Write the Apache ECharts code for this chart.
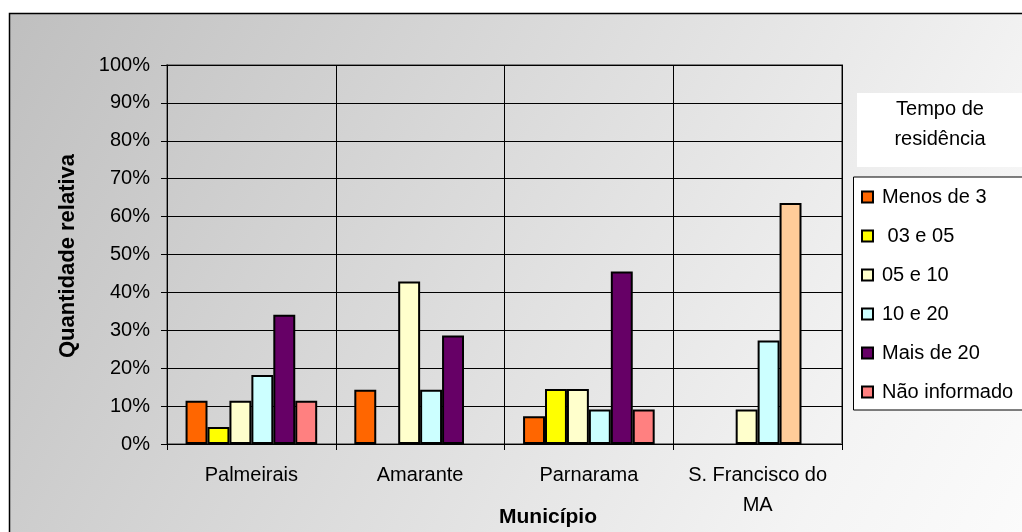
<!DOCTYPE html>
<html>
<head>
<meta charset="utf-8">
<script src="https://cdn.jsdelivr.net/npm/echarts@6/dist/echarts.min.js"></script>
<style>html,body{margin:0;padding:0;background:#fff}#c{width:1022px;height:532px}</style>
</head>
<body>
<div id="c"></div>
<script>
const categories = ['Palmeirais', 'Amarante', 'Parnarama', 'S. Francisco do\nMA'];
const seriesNames = ['Menos de 3', ' 03 e 05', '05 e 10', '10 e 20', 'Mais de 20', 'Não informado'];
const menosDe3 = [11.4, 14.3, 7.3, null];
const de03a05 = [4.5, null, 14.5, null];
const de05a10 = [11.4, 42.9, 14.5, 9.1];
const de10a20 = [18.2, 14.3, 9.1, 27.3];
const maisDe20 = [34.1, 28.6, 45.5, 63.6];
const naoInformado = [11.4, null, 9.1, null];
const yTicks = [0, 10, 20, 30, 40, 50, 60, 70, 80, 90, 100];
const legendTitle = 'Tempo de\nresidência';
const xTitle = 'Município';
const yTitle = 'Quantidade relativa';

const colors = ['#FF6600', '#FFFF00', '#FFFFCC', '#CCFFFF', '#660066', '#FF8080'];
const overrideColor = { series: 4, index: 3, color: '#FFCC99' };
const allValues = [menosDe3, de03a05, de05a10, de10a20, maisDe20, naoInformado];

const font = '"Liberation Sans", Arial, sans-serif';

const series = allValues.map((vals, si) => ({
  name: seriesNames[si],
  type: 'bar',
  barGap: 0,
  barCategoryGap: '22%',
  itemStyle: { color: colors[si], borderColor: '#000', borderWidth: 2 },
  data: vals.map((v, i) => {
    if (v === null) return '-';
    if (si === overrideColor.series && i === overrideColor.index) {
      return { value: v, itemStyle: { color: overrideColor.color } };
    }
    return v;
  })
}));

const chart = echarts.init(document.getElementById('c'), null, { renderer: 'canvas' });
chart.setOption({
  animation: false,
  textStyle: { fontFamily: font },
  graphic: [
    { type: 'rect', z: -100, shape: { x: 0, y: 0, width: 1022, height: 532 }, style: { fill: '#fff' } },
    { type: 'rect', z: -90, shape: { x: 9.5, y: 13.5, width: 1100, height: 600 },
      style: { fill: new echarts.graphic.LinearGradient(0, 0, 1, 1, [{ offset: 0, color: '#bfbfbf' }, { offset: 0.75, color: '#f4f4f4' }, { offset: 1, color: '#ffffff' }]), stroke: '#000', lineWidth: 1.5 } },
    { type: 'rect', z: -50, shape: { x: 857, y: 93, width: 200, height: 74 }, style: { fill: '#fff' } },
    { type: 'text', z: 10, x: 940, y: 124, style: { text: legendTitle, font: '20px ' + font, fill: '#000', textAlign: 'center', textVerticalAlign: 'middle', lineHeight: 30 } },
    { type: 'rect', z: -50, shape: { x: 853.5, y: 177, width: 200, height: 233 }, style: { fill: '#fff', stroke: '#000', lineWidth: 1 } },
    { type: 'text', z: 10, x: 548, y: 517, style: { text: xTitle, font: 'bold 21px ' + font, fill: '#000', textAlign: 'center', textVerticalAlign: 'middle' } },
    { type: 'text', z: 10, x: 68, y: 256, rotation: Math.PI / 2, style: { text: yTitle, font: 'bold 22px ' + font, fill: '#000', textAlign: 'center', textVerticalAlign: 'middle' } }
  ],
  grid: { left: 167, right: 180, top: 65, bottom: 88, show: true, borderColor: '#808080', borderWidth: 2, backgroundColor: 'transparent' },
  legend: {
    orient: 'vertical', left: 861, top: 187, padding: 0, itemGap: 19,
    itemWidth: 11, itemHeight: 11, icon: 'rect',
    textStyle: { fontSize: 20, color: '#000', lineHeight: 20, padding: [0, 0, 0, 4], fontFamily: font },
    data: seriesNames
  },
  xAxis: {
    type: 'category', data: categories,
    axisLine: { lineStyle: { color: '#000', width: 1 } },
    axisTick: { show: true, length: 6, lineStyle: { color: '#000' } },
    axisLabel: { fontSize: 20, color: '#000', margin: 16, lineHeight: 30, interval: 0 },
    splitLine: { show: true, lineStyle: { color: '#000', width: 1 } }
  },
  yAxis: {
    type: 'value', min: yTicks[0], max: yTicks[yTicks.length - 1], interval: 10,
    axisLine: { show: true, lineStyle: { color: '#000', width: 1 } },
    axisTick: { show: true, length: 6, lineStyle: { color: '#000' } },
    axisLabel: { fontSize: 20, color: '#000', margin: 17, formatter: '{value}%' },
    splitLine: { show: true, lineStyle: { color: '#000', width: 1 } }
  },
  series: series
});
</script>
</body>
</html>
